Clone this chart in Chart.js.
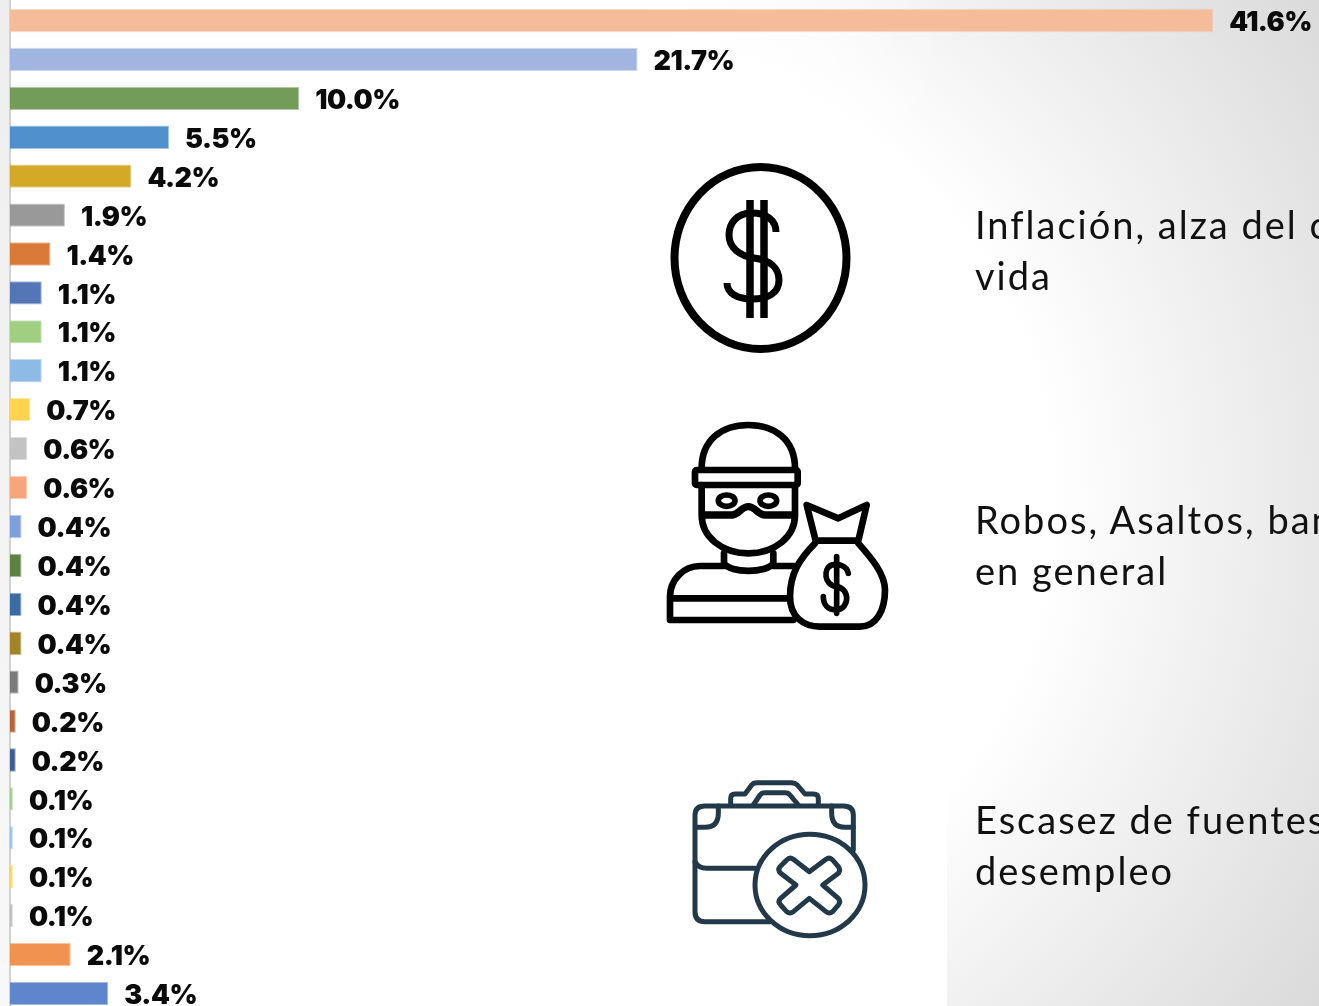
<!DOCTYPE html>
<html lang="es">
<head>
<meta charset="utf-8">
<script src="https://cdn.jsdelivr.net/npm/chart.js@4"></script>
<style>
html,body{margin:0;padding:0;width:1319px;height:1006px;overflow:hidden}
body{background:radial-gradient(circle at 600px 500px,#ffffff 0,#ffffff 450px,#d8d8d8 900px)}
#strip{position:absolute;left:0;top:0;width:10px;height:1006px;background:linear-gradient(to bottom,#eeeeee,#f8f8f8)}
#coverTop{position:absolute;left:10px;top:0;width:937px;height:600px;background:linear-gradient(to right,#fff 0,#fff 640px,rgba(255,255,255,0) 937px)}
#cover{position:absolute;left:10px;top:600px;width:937px;height:406px;background:linear-gradient(to right,#fff 0,#fff 640px,rgba(255,255,255,0) 937px),linear-gradient(to bottom,rgba(255,255,255,0) 0,#fff 120px)}
#wrap{position:absolute;left:0;top:0;width:1319px;height:1013px}
.t{position:absolute;left:975px;width:344px;overflow:hidden;white-space:nowrap;font-family:Lato,sans-serif;font-size:38px;line-height:51px;letter-spacing:2px;color:#111}
svg{position:absolute;overflow:visible;fill:none;stroke-linecap:round;stroke-linejoin:round}
</style>
</head>
<body>
<div id="strip"></div>
<div id="coverTop"></div>
<div id="cover"></div>
<div id="wrap"><canvas id="c" width="1319" height="1013"></canvas></div>

<div class="t" style="top:199px">Inflación, alza del costo de<br>vida</div>
<div class="t" style="top:494px">Robos, Asaltos, bandas<br>en general</div>
<div class="t" style="top:794px">Escasez de fuentes de trabajo,<br>desempleo</div>

<svg style="left:650px;top:150px" width="220" height="220" viewBox="650 150 220 220" stroke="#000">
  <ellipse cx="760.5" cy="258" rx="86" ry="91" stroke-width="8"/>
  <path stroke-width="7" stroke-linecap="butt" d="M776,232 C776,220 766,213 752,213 C736,213 729,224 729,235 C729,248 740,256 754,258 C770,260 779,268 779,280 C779,293 768,299 752,299 C737,299 727,293 727,283"/>
  <path stroke-width="7.5" stroke-linecap="butt" d="M750,200 V318 M764,200 V318"/>
</svg>

<svg style="left:650px;top:410px" width="260" height="230" viewBox="0 0 780 690" stroke="#000" stroke-width="20">
  <path d="M155,175 C155,90 215,45 295,45 C375,45 435,90 435,175"/>
  <rect x="135" y="180" width="308" height="45" rx="5"/>
  <path d="M155,225 V315 C155,380 215,430 295,430 C375,430 435,380 435,315 V225"/>
  <path stroke-width="22" d="M160,315 H245 C265,315 275,290 295,290 C315,290 325,315 345,315 H430"/>
  <ellipse cx="230" cy="272" rx="25" ry="17" stroke-width="17"/>
  <ellipse cx="355" cy="272" rx="25" ry="17" stroke-width="17"/>
  <path d="M222,430 V460 C240,490 350,490 370,460 V430"/>
  <path d="M222,468 H150 C100,468 60,510 60,560 V630 H430 M370,468 H435 M65,565 H415"/>
  <path d="M470,285 L565,325 L650,285 L625,392 H497 Z"/>
  <path d="M495,400 C450,445 420,490 420,560 C420,620 460,650 510,650 H630 C680,650 705,600 705,540 C705,490 660,440 625,400"/>
  <path stroke-width="17" d="M595,490 C590,465 560,460 545,465 C520,475 520,525 560,530 C600,535 600,595 560,600 C535,600 520,585 520,560 M560,440 V610"/>
</svg>

<svg style="left:670px;top:770px" width="220" height="180" viewBox="0 0 660 540" stroke="#22394a" stroke-width="15">
  <path d="M300,455 H105 Q75,455 75,425 V135 Q75,108 105,108 H520 Q550,108 550,135 V240"/>
  <path d="M80,172 H105 Q145,172 145,130 V108 M485,108 V130 Q485,172 525,172 H550"/>
  <path d="M75,275 Q85,295 110,295 H255"/>
  <path d="M182,105 V85 Q182,72 195,72 H225 L245,45 Q250,38 262,38 H365 Q375,38 382,45 L405,72 H430 Q445,72 445,85 V105"/>
  <path d="M250,105 L270,75 Q275,68 285,68 H345 Q355,68 360,75 L385,105"/>
  <ellipse cx="420" cy="345" rx="165" ry="152"/>
  <path d="M418,305 L370,268 Q360,260 350,270 L330,290 Q322,300 332,310 L378,345 L332,385 Q322,395 332,405 L350,425 Q360,433 370,425 L418,385 L468,425 Q478,433 488,425 L505,405 Q513,395 505,385 L458,345 L505,310 Q513,300 505,290 L488,270 Q478,260 468,268 Z"/>
</svg>

<script>
const categories = ['1','2','3','4','5','6','7','8','9','10','11','12','13','14','15','16','17','18','19','20','21','22','23','24','25','26'];
const values = [41.6,21.7,10.0,5.5,4.2,1.9,1.4,1.1,1.1,1.1,0.7,0.6,0.6,0.4,0.4,0.4,0.4,0.3,0.2,0.2,0.1,0.1,0.1,0.1,2.1,3.4];
const fills = ['#F4BC98','#A0B6E0','#739B5A','#5090CD','#D3A927','#999999','#D97A38','#5475B6','#A1CF81','#8EBBE5','#FFD34F','#C3C3C3','#F5A67A','#7E9FDB','#5C8141','#3A6CA3','#A18427','#7B7B7B','#B4683A','#3F5D93','#A0CC85','#94C0E8','#FFD55C','#BDBDBD','#F29251','#5F86CC'];
const axisMax = 45.26;

const valueLabels = {
  id:'valueLabels',
  afterDatasetsDraw(chart){
    const {ctx} = chart;
    ctx.save();
    ctx.font = '900 27px Inter, sans-serif';
    ctx.letterSpacing = '-0.5px';
    ctx.fillStyle = '#0a0a0a';
    ctx.textBaseline = 'middle';
    ctx.textAlign = 'left';
    chart.getDatasetMeta(0).data.forEach((bar,i)=>{
      ctx.fillText(values[i].toFixed(1)+'%', bar.x+16, bar.y+2.5);
    });
    ctx.restore();
  }
};

new Chart(document.getElementById('c'),{
  type:'bar',
  data:{labels:categories,datasets:[{
    data:values,
    backgroundColor:fills,
    borderColor:fills.map(c=>c+'88'),
    borderWidth:1,
    barPercentage:0.6,
    categoryPercentage:1
  }]},
  plugins:[valueLabels],
  options:{
    indexAxis:'y',
    responsive:false,
    animation:false,
    layout:{padding:{left:10,top:1,right:0,bottom:0}},
    plugins:{legend:{display:false},title:{display:false},tooltip:{enabled:false}},
    scales:{
      x:{display:false,min:0,max:axisMax},
      y:{
        grid:{display:false,drawTicks:false},
        border:{display:true,color:'#d2d2d2',width:2},
        ticks:{display:false,padding:0}
      }
    }
  }
});
</script>
</body>
</html>
